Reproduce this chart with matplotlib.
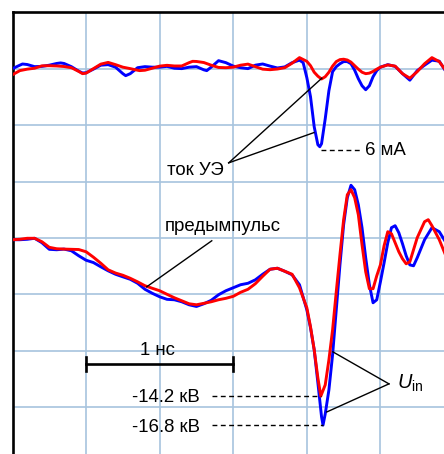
import numpy as np
import matplotlib
matplotlib.use("Agg")
import matplotlib.pyplot as plt

plt.rcParams['font.family'] = ['Liberation Sans', 'DejaVu Sans']
plt.rcParams['mathtext.fontset'] = 'custom'
plt.rcParams['mathtext.rm'] = 'Liberation Sans'
plt.rcParams['mathtext.it'] = 'Liberation Sans:italic'

# ---- data (time in ns) ----
# current of the emitter unit (mA)
t_cur_blue = [0.00, 0.05, 0.068, 0.10, 0.15, 0.20, 0.25, 0.30, 0.327, 0.35,
              0.40, 0.45, 0.476, 0.50, 0.55, 0.60, 0.65, 0.70, 0.75, 0.769,
              0.80, 0.85, 0.90, 0.95,
              1.00, 1.05, 1.10, 1.15, 1.20, 1.25, 1.30, 1.32, 1.35, 1.40, 1.45,
              1.50, 1.55, 1.60, 1.65, 1.70, 1.75, 1.80, 1.85, 1.90, 1.95,
              1.975, 2.00, 2.025, 2.05, 2.075, 2.088, 2.10, 2.125, 2.15, 2.175,
              2.20, 2.225, 2.25, 2.275, 2.30, 2.325, 2.35, 2.375, 2.40, 2.425,
              2.45, 2.475, 2.50, 2.55, 2.60, 2.65, 2.70, 2.75, 2.80, 2.85,
              2.90, 2.95, 3.00]
i_blue = [-0.11, 0.15, 0.24, 0.20, 0.04, 0.06, 0.15, 0.28, 0.32, 0.28,
          0.04, -0.30, -0.44, -0.42, -0.15, 0.15, 0.19, 0.00, -0.49, -0.64,
          -0.49, -0.04, 0.04, 0.00,
          0.00, 0.06, -0.08, -0.11, 0.00, 0.04, -0.20, -0.26, 0.00, 0.49, 0.34,
          0.08, -0.04, -0.11, 0.15, 0.24, 0.08, -0.06, 0.02, 0.34, 0.53,
          0.34, -0.79, -2.23, -4.49, -5.85, -6.00, -5.77, -3.89, -1.77, -0.34,
          0.04, 0.26, 0.42, 0.42, 0.26, -0.23, -0.87, -1.40, -1.70, -1.40,
          -0.72, -0.26, 0.00, 0.19, 0.06, -0.49, -0.98, -0.26, 0.15, 0.53,
          0.45, -0.42, -0.79]

t_cur_red = [0.00, 0.05, 0.10, 0.15, 0.20, 0.25, 0.30, 0.35, 0.40, 0.45,
             0.476, 0.50, 0.55, 0.60, 0.65, 0.70, 0.75, 0.80, 0.85, 0.864,
             0.90, 0.95,
             1.00, 1.05, 1.10, 1.15, 1.20, 1.224, 1.25, 1.30, 1.35, 1.40, 1.45,
             1.50, 1.55, 1.60, 1.65, 1.70, 1.75, 1.80, 1.85, 1.90, 1.95,
             2.00, 2.025, 2.05, 2.075, 2.10, 2.125, 2.15, 2.175, 2.20, 2.225,
             2.25, 2.275, 2.30, 2.325, 2.35, 2.375, 2.40, 2.425, 2.45, 2.475,
             2.50, 2.55, 2.60, 2.65, 2.70, 2.75, 2.80, 2.85, 2.90, 2.95,
             3.00]
i_red = [-0.57, -0.26, -0.15, -0.08, 0.10, 0.11, 0.09, 0.05, -0.04, -0.32,
         -0.49, -0.45, -0.11, 0.23, 0.36, 0.19, 0.00, -0.11, -0.23, -0.26,
         -0.23, -0.08,
         0.08, 0.14, 0.09, 0.09, 0.34, 0.44, 0.43, 0.35, 0.15, -0.02, -0.04,
         0.00, 0.15, 0.23, 0.04, -0.15, -0.19, -0.14, -0.04, 0.30, 0.72,
         0.44, 0.11, -0.38, -0.68, -0.89, -0.72, -0.38, 0.08, 0.42, 0.57,
         0.60, 0.54, 0.38, 0.11, -0.15, -0.38, -0.49, -0.45, -0.32, -0.15,
         0.00, 0.17, 0.08, -0.49, -0.83, -0.34, 0.26, 0.72, 0.42, -0.34,
         -0.72]

# input voltage U_in (kV)
t_u_blue = [0.00, 0.05, 0.10, 0.15, 0.20, 0.25, 0.30, 0.35, 0.40, 0.45,
            0.50, 0.55, 0.60, 0.65, 0.70, 0.75, 0.80, 0.85, 0.90, 0.95,
            1.00, 1.05, 1.10, 1.15, 1.20, 1.25, 1.30, 1.35, 1.40, 1.45,
            1.50, 1.55, 1.60, 1.65, 1.70, 1.75, 1.80, 1.85, 1.90, 1.95,
            2.00, 2.025, 2.05, 2.075, 2.10, 2.11, 2.125, 2.15, 2.175, 2.20,
            2.225, 2.25, 2.275, 2.30, 2.325, 2.35, 2.375, 2.40, 2.425, 2.45,
            2.475, 2.50, 2.525, 2.55, 2.575, 2.60, 2.625, 2.65, 2.675, 2.70,
            2.725, 2.75, 2.80, 2.85, 2.90, 2.95, 3.00]
u_blue = [-0.16, -0.16, -0.12, -0.03, -0.43, -1.02, -1.06, -1.00, -1.15, -1.60,
          -2.00, -2.21, -2.59, -2.95, -3.26, -3.49, -3.71, -4.07, -4.61, -4.97,
          -5.28, -5.51, -5.55, -5.73, -6.00, -6.15, -5.91, -5.60, -5.10, -4.74,
          -4.47, -4.20, -4.07, -3.76, -3.26, -2.81, -2.72, -2.99, -3.31, -4.20,
          -6.45, -8.07, -10.04, -13.00, -16.06, -16.8, -15.80, -13.64, -10.49, -6.45,
          -2.42, 1.19, 3.61, 4.73, 4.33, 2.98, 0.92, -1.78, -4.20, -5.82,
          -5.55, -3.94, -2.23, -0.43, 0.92, 1.10, 0.47, -0.52, -1.60, -2.42,
          -2.50, -1.78, -0.16, 0.92, 0.56, -0.52, -1.60]

t_u_red = [0.00, 0.05, 0.10, 0.15, 0.20, 0.25, 0.30, 0.35, 0.40, 0.45,
           0.50, 0.55, 0.60, 0.65, 0.70, 0.75, 0.80, 0.85, 0.90, 0.95,
           1.00, 1.05, 1.10, 1.15, 1.20, 1.25, 1.30, 1.35, 1.40, 1.45,
           1.50, 1.55, 1.60, 1.65, 1.70, 1.75, 1.80, 1.85, 1.90, 1.95,
           2.00, 2.025, 2.05, 2.075, 2.095, 2.125, 2.15, 2.175, 2.20, 2.225,
           2.25, 2.275, 2.30, 2.325, 2.35, 2.375, 2.40, 2.425, 2.45, 2.475,
           2.50, 2.525, 2.55, 2.575, 2.60, 2.625, 2.65, 2.675, 2.70, 2.725,
           2.75, 2.80, 2.825, 2.85, 2.90, 2.95, 3.00]
u_red = [-0.16, -0.12, -0.03, -0.03, -0.34, -0.84, -0.97, -1.00, -1.02, -1.04,
         -1.24, -1.73, -2.27, -2.86, -3.15, -3.35, -3.62, -3.94, -4.29, -4.52,
         -4.74, -5.06, -5.37, -5.64, -5.91, -6.00, -5.87, -5.73, -5.55, -5.42,
         -5.24, -4.88, -4.61, -4.11, -3.44, -2.81, -2.72, -2.99, -3.26, -4.47,
         -6.27, -7.98, -10.04, -12.56, -14.2, -13.19, -10.94, -8.25, -4.83, -1.51,
         1.64, 3.88, 4.33, 3.61, 2.08, -0.61, -3.04, -4.56, -4.56, -3.40,
         -2.41, -0.70, 0.56, 0.38, -0.43, -1.24, -1.87, -2.32, -2.14, -1.06,
         0.02, 1.46, 1.64, 1.10, -0.16, -1.78, -3.04]

# scope settings
NS_PER_DIV = 0.5
KV_PER_DIV = 5.06
MA_PER_DIV = 4.25
I_BASE_DIV = 3.03   # current trace zero level (div)

u_min_red, u_min_blue = -14.2, -16.8
i_peak_label = "6 мА"

BLUE = '#0000ff'
RED = '#ff0000'
GRID = '#a7c4de'

fig = plt.figure(figsize=(4.44, 4.54), dpi=100)
ax = fig.add_axes([12.5 / 444, (454 - 463.4) / 454, 441.5 / 444, 450.9 / 454])
ax.set_xlim(0, 3.0)
ax.set_ylim(-4, 4)
ax.set_xticks(np.arange(0, 3.01, NS_PER_DIV))
ax.set_yticks(np.arange(-4, 4.01, 1))
ax.tick_params(length=0, labelbottom=False, labelleft=False)
ax.grid(True, color=GRID, lw=1.2)
ax.set_axisbelow(True)
for s in ('right', 'bottom'):
    ax.spines[s].set_visible(False)
for s in ('top', 'left'):
    ax.spines[s].set_linewidth(1.9)
    ax.spines[s].set_color('black')

def cur(i):
    return I_BASE_DIV + np.asarray(i) / MA_PER_DIV

def volt(u):
    return np.asarray(u) / KV_PER_DIV

lw_tr = 2.1
ax.plot(t_cur_blue, cur(i_blue), color=BLUE, lw=lw_tr, solid_joinstyle='round', zorder=3)
ax.plot(t_u_blue, volt(u_blue), color=BLUE, lw=lw_tr, solid_joinstyle='round', zorder=3)
ax.plot(t_cur_red, cur(i_red), color=RED, lw=lw_tr, solid_joinstyle='round', zorder=4)
ax.plot(t_u_red, volt(u_red), color=RED, lw=lw_tr, solid_joinstyle='round', zorder=4)

fs = 13.4
lk = dict(color='black', lw=1.0, zorder=5)
dk = dict(color='black', lw=1.0, ls=(0, (3.5, 2.5)), zorder=5)

# ток УЭ
ax.text(1.048, 1.122, "ток УЭ", fontsize=fs, va='baseline', ha='left')
ax.plot([1.469, 2.102], [1.332, 2.835], **lk)
ax.plot([1.469, 2.048], [1.332, 1.869], **lk)
# 6 mA
ax.plot([2.095, 2.361], [1.565, 1.565], **dk)
ax.text(2.395, 1.478, i_peak_label, fontsize=fs, va='baseline', ha='left')

# предымпульс
ax.text(1.034, 0.119, "предымпульс", fontsize=fs, va='baseline', ha='left')
ax.plot([1.354, 0.912], [-0.050, -0.867], **lk)

# 1 ns scale bar
ybar = -2.234
ax.plot([0.5, 1.5], [ybar, ybar], color='black', lw=1.9, zorder=5)
ax.plot([0.5, 0.5], [ybar + 0.125, ybar - 0.125], color='black', lw=1.9, zorder=5)
ax.plot([1.5, 1.5], [ybar + 0.125, ybar - 0.125], color='black', lw=1.9, zorder=5)
ax.text(0.864, -2.069, "1 нс", fontsize=fs, va='baseline', ha='left')

# peak voltages
ax.text(0.810, -2.91, f"{u_min_red:.1f} кВ", fontsize=fs, va='baseline', ha='left')
ax.text(0.810, -3.44, f"{u_min_blue:.1f} кВ", fontsize=fs, va='baseline', ha='left')
ax.plot([1.354, 2.095], [volt(u_min_red), volt(u_min_red)], **dk)
ax.plot([1.354, 2.11], [volt(u_min_blue), volt(u_min_blue)], **dk)

# U_in
ax.text(2.612, -2.68, r"$U_{\rm in}$", fontsize=fs + 1, va='baseline', ha='left')
ax.plot([2.558, 2.177], [-2.589, -2.021], **lk)
ax.plot([2.558, 2.136], [-2.589, -3.087], **lk)

fig.savefig("out.png", dpi=100)
